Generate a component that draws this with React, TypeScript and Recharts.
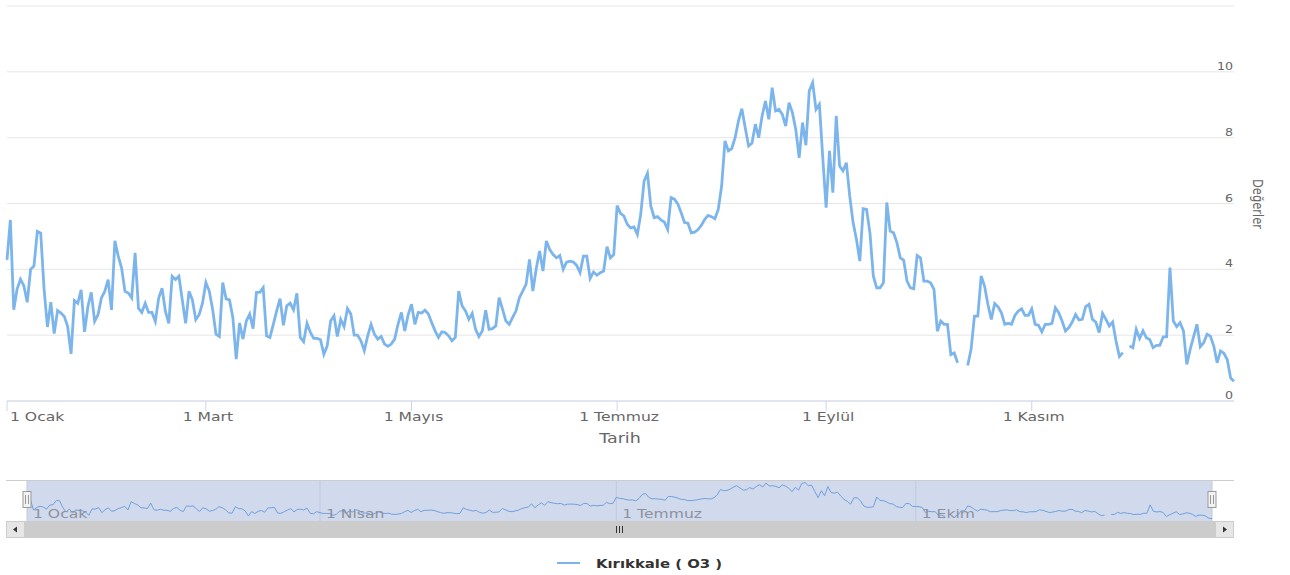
import { LineChart, Line, XAxis, YAxis, CartesianGrid, Label } from "recharts";

// Daily O3 values, 1 Ocak (index 0) .. 31 Aralık (index 364); null = no measurement
const O3_VALUES: (number | null)[] = [
  4.29, 5.5, 2.77, 3.4, 3.7, 3.5, 3.0, 4.0, 4.1, 5.15,
  5.1, 3.4, 2.25, 3.0, 2.05, 2.75, 2.67, 2.57, 2.26, 1.43,
  3.05, 2.97, 3.38, 2.1, 2.87, 3.3, 2.42, 2.62, 3.13, 3.33,
  3.69, 2.77, 4.87, 4.4, 4.04, 3.33, 3.28, 3.13, 4.5, 2.82,
  2.69, 2.97, 2.69, 2.69, 2.42, 3.13, 3.43, 2.72, 2.36, 3.79,
  3.69, 3.79, 3.07, 2.36, 3.33, 3.07, 2.47, 2.62, 2.97, 3.6,
  3.34, 2.79, 2.03, 1.96, 3.6, 3.1, 3.07, 2.54, 1.27, 2.37,
  1.88, 2.43, 2.64, 2.2, 3.3, 3.3, 3.44, 1.98, 1.93, 2.33,
  2.74, 3.11, 2.3, 2.89, 2.97, 2.77, 3.27, 1.93, 1.8, 2.36,
  2.08, 1.9, 1.9, 1.86, 1.42, 1.68, 2.43, 2.59, 1.96, 2.48,
  2.26, 2.81, 2.64, 2.0, 2.0, 1.83, 1.53, 1.98, 2.33, 2.03,
  1.88, 1.96, 1.73, 1.66, 1.73, 1.88, 2.33, 2.69, 2.13, 2.62,
  2.94, 2.33, 2.69, 2.67, 2.76, 2.64, 2.38, 2.13, 1.93, 2.1,
  2.08, 1.98, 1.83, 1.93, 3.34, 2.89, 2.74, 2.48, 2.66, 2.18,
  1.96, 2.13, 2.76, 2.18, 2.2, 2.28, 3.14, 2.79, 2.43, 2.33,
  2.54, 2.74, 3.14, 3.34, 3.55, 4.3, 3.34, 4.02, 4.56, 3.95,
  4.86, 4.6, 4.45, 4.35, 4.42, 4.0, 4.22, 4.25, 4.22, 4.12,
  3.9, 4.4, 4.4, 3.72, 3.92, 3.82, 3.9, 3.95, 4.69, 4.35,
  4.45, 5.94, 5.7, 5.62, 5.37, 5.26, 5.29, 5.06, 5.67, 6.68,
  6.92, 5.92, 5.57, 5.6, 5.5, 5.44, 5.21, 6.18, 6.13, 5.99,
  5.72, 5.42, 5.4, 5.11, 5.13, 5.21, 5.34, 5.52, 5.64, 5.6,
  5.54, 5.82, 6.53, 7.9, 7.6, 7.67, 8.0, 8.51, 8.88, 8.3,
  7.75, 7.83, 8.41, 8.0, 8.66, 9.11, 8.56, 9.52, 8.81, 8.86,
  8.71, 8.35, 9.06, 8.76, 8.25, 7.39, 8.46, 7.77, 9.42, 9.67,
  8.86, 9.01, 7.4, 5.87, 7.6, 6.33, 8.66, 7.14, 6.99, 7.24,
  6.23, 5.42, 4.91, 4.25, 5.84, 5.82, 5.11, 3.8, 3.44, 3.44,
  3.59, 6.03, 5.16, 5.11, 4.81, 4.35, 4.28, 3.64, 3.44, 3.41,
  4.42, 4.35, 3.64, 3.64, 3.59, 3.39, 2.12, 2.43, 2.33, 2.33,
  1.41, 1.46, 1.16, null, null, 1.08, 1.57, 2.58, 2.58, 3.8,
  3.49, 2.93, 2.48, 2.96, 2.86, 2.68, 2.33, 2.36, 2.33, 2.6,
  2.73, 2.8, 2.6, 2.6, 2.8, 2.33, 2.3, 2.1, 2.33, 2.33,
  2.36, 2.83, 2.68, 2.43, 2.13, 2.23, 2.4, 2.63, 2.46, 2.48,
  2.87, 2.94, 2.48, 2.4, 2.08, 2.66, 2.48, 2.28, 2.4, 1.82,
  1.35, 1.47, null, 1.67, 1.62, 2.18, 1.9, 2.13, 1.92, 1.87,
  1.62, 1.69, 1.69, 1.95, 1.95, 4.05, 2.43, 2.26, 2.38, 2.13,
  1.11, 1.57, 1.95, 2.33, 1.65, 1.77, 2.03, 1.97, 1.67, 1.16,
  1.52, 1.45, 1.26, 0.7, 0.6,
];

// day-of-year positions of the axis labels
const MAIN_TICKS = [0, 59, 120, 181, 243, 304];
const MAIN_TICK_LABELS = ["1 Ocak", "1 Mart", "1 Mayıs", "1 Temmuz", "1 Eylül", "1 Kasım"];
const NAV_TICKS = [0, 90, 181, 273];
const NAV_TICK_LABELS = ["1 Ocak", "1 Nisan", "1 Temmuz", "1 Ekim"];
const Y_TICKS = [0, 2, 4, 6, 8, 10, 12];

const SERIES_NAME = "Kırıkkale ( O3 )";
const X_TITLE = "Tarih";
const Y_TITLE = "Değerler";

const data = O3_VALUES.map((v, i) => ({ day: i, o3: v }));

const FONT = "'DejaVu Sans', Verdana, sans-serif";
const SX = 1.3; // reference text is drawn wide

const XTick = (props: any) => {
  const { x, payload } = props;
  const i = MAIN_TICKS.indexOf(payload.value);
  // first label is pushed right to stay inside the plot, the rest are centred
  const first = i === 0;
  return (
    <g transform={`translate(${first ? x + 3 : x + 2},421)`}>
      <text
        transform={`scale(${SX},1)`}
        textAnchor={first ? "start" : "middle"}
        fontSize={12}
        fill="#666"
        fontFamily={FONT}
      >
        {MAIN_TICK_LABELS[i]}
      </text>
    </g>
  );
};

const YTick = (props: any) => {
  const { y, payload } = props;
  if (payload.value === 12) return <g />;
  return (
    <g transform={`translate(1233,${y - 2})`}>
      <text transform={`scale(1.15,1)`} textAnchor="end" fontSize={11} fill="#666" fontFamily={FONT}>
        {payload.value}
      </text>
    </g>
  );
};

const NavTick = (props: any) => {
  const { x, payload } = props;
  const label = NAV_TICK_LABELS[NAV_TICKS.indexOf(payload.value)];
  return (
    <g transform={`translate(${x + 6},38)`}>
      <text transform={`scale(${SX},1)`} fontSize={12} fill="#8c919b" fontFamily={FONT}>
        {label}
      </text>
    </g>
  );
};

function Handle({ x }: { x: number }) {
  return (
    <g>
      <rect x={x - 4} y={491.5} width={8} height={16} fill="#f2f2f2" stroke="#999" strokeWidth={1} />
      <line x1={x - 1.5} y1={495} x2={x - 1.5} y2={504} stroke="#999" />
      <line x1={x + 1.5} y1={495} x2={x + 1.5} y2={504} stroke="#999" />
    </g>
  );
}

export default function App() {
  return (
    <div style={{ position: "absolute", left: 0, top: 0, width: 1290, height: 575, background: "#fff" }}>
      <LineChart width={1290} height={460} data={data} margin={{ top: 6, right: 0, bottom: 0, left: 7 }}>
        <CartesianGrid stroke="#e6e6e6" vertical={false} />
        <XAxis
          dataKey="day"
          type="number"
          domain={[0, 364]}
          ticks={MAIN_TICKS}
          interval={0}
          height={59}
          stroke="#ccd6eb"
          tickSize={10}
          tick={XTick}
        >
          <Label
            content={() => (
              <g transform="translate(620,443)">
                <text transform="scale(1.25,1)" textAnchor="middle" fontSize={14} fill="#666" fontFamily={FONT}>
                  {X_TITLE}
                </text>
              </g>
            )}
          />
        </XAxis>
        <YAxis
          orientation="right"
          width={56}
          domain={[0, 12]}
          ticks={Y_TICKS}
          interval={0}
          axisLine={false}
          tickLine={false}
          tick={YTick}
        >
          <Label
            content={() => (
              <g transform="translate(1253,204) scale(1.2,1) rotate(90)">
                <text textAnchor="middle" fontSize={11.5} fill="#666" fontFamily={FONT}>
                  {Y_TITLE}
                </text>
              </g>
            )}
          />
        </YAxis>
        <Line
          type="linear"
          dataKey="o3"
          stroke="#7cb5ec"
          strokeWidth={2.8}
          dot={false}
          activeDot={false}
          connectNulls={false}
          isAnimationActive={false}
        />
      </LineChart>

      {/* navigator */}
      <div style={{ position: "absolute", left: 0, top: 480 }}>
        <LineChart width={1290} height={42} data={data} margin={{ top: 0, right: 78, bottom: 0, left: 27 }}>
          <CartesianGrid fill="#d1daed" stroke="#c0c9db" horizontal={false} />
          <XAxis
            dataKey="day"
            type="number"
            domain={[0, 364]}
            ticks={NAV_TICKS}
            interval={0}
            height={1}
            axisLine={false}
            tickLine={false}
            tick={NavTick}
          />
          <YAxis hide domain={[0, 10.3]} />
          <Line
            type="linear"
            dataKey="o3"
            stroke="#6f9fdc"
            strokeWidth={1}
            dot={false}
            activeDot={false}
            connectNulls={false}
            isAnimationActive={false}
          />
        </LineChart>
      </div>

      {/* navigator outline, handles, scrollbar, legend */}
      <svg width={1290} height={575} style={{ position: "absolute", left: 0, top: 0, pointerEvents: "none" }}>
        <line x1={6} y1={480.5} x2={1234} y2={480.5} stroke="#cccccc" />
        <Handle x={27} />
        <Handle x={1212} />
        <rect x={6.5} y={521.5} width={1227} height={16} fill="#f2f2f2" stroke="#f2f2f2" />
        <rect x={24.5} y={521.5} width={1191} height={16} fill="#cccccc" stroke="#cccccc" />
        <rect x={6.5} y={521.5} width={18} height={16} fill="#e6e6e6" stroke="#cccccc" />
        <rect x={1215.5} y={521.5} width={18} height={16} fill="#e6e6e6" stroke="#cccccc" />
        <path d="M 17 526.5 L 17 532.5 L 13 529.5 Z" fill="#333" />
        <path d="M 1223 526.5 L 1223 532.5 L 1227 529.5 Z" fill="#333" />
        <line x1={616.5} y1={526} x2={616.5} y2={533} stroke="#333" />
        <line x1={619.5} y1={526} x2={619.5} y2={533} stroke="#333" />
        <line x1={622.5} y1={526} x2={622.5} y2={533} stroke="#333" />

        <line x1={557} y1={563} x2={580} y2={563} stroke="#7cb5ec" strokeWidth={2} />
        <g transform="translate(596,568)">
          <text transform="scale(1.24,1)" fontSize={12} fontWeight="bold" fill="#333" fontFamily={FONT}>
            {SERIES_NAME}
          </text>
        </g>
      </svg>
    </div>
  );
}
